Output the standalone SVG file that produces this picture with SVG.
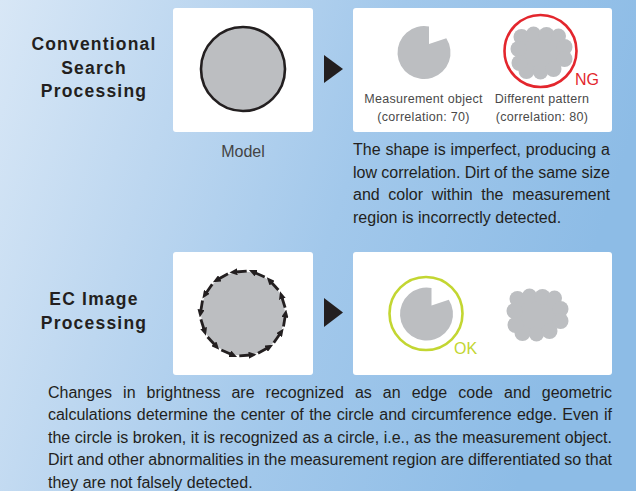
<svg xmlns="http://www.w3.org/2000/svg" xmlns:xlink="http://www.w3.org/1999/xlink" width="636" height="491" viewBox="0 0 636 491">
<defs>
<linearGradient id="bg" x1="0" y1="0" x2="1" y2="0.25">
<stop offset="0" stop-color="#d8e7f6"/>
<stop offset="0.3" stop-color="#bdd7f0"/>
<stop offset="0.6" stop-color="#a2c8eb"/>
<stop offset="1" stop-color="#8dbce6"/>
</linearGradient>
<marker id="ah" viewBox="0 0 8 7" refX="2" refY="3.5" markerWidth="8" markerHeight="7" markerUnits="userSpaceOnUse" orient="auto">
<path d="M0,0 L8,3.5 L0,7 z" fill="#231f20"/>
</marker>
<g id="cloud" fill="#bcbec1">
<ellipse cx="0" cy="0" rx="23" ry="19"/>
<circle cx="-20" cy="-16" r="8"/><circle cx="-8" cy="-19" r="7.5"/><circle cx="5" cy="-18" r="8"/><circle cx="17" cy="-17" r="7.5"/>
<circle cx="23" cy="-6" r="8"/><circle cx="23" cy="6" r="8"/>
<circle cx="-15" cy="18" r="8"/><circle cx="-1" cy="19" r="7.5"/><circle cx="12" cy="16" r="8"/>
<circle cx="-23" cy="-4" r="8"/><circle cx="-22" cy="10" r="8"/>
</g>
<path id="pie" d="M5,-8.5 L5,-26 A26.5,26.5 0 1 0 22.3,-14.3 Z" fill="#bcbec1"/>
</defs>
<style>
.box{fill:#ffffff}
.hd{font-family:"Liberation Sans",Arial,sans-serif;font-weight:bold;font-size:17.5px;letter-spacing:1.2px;fill:#231f20;text-anchor:middle}
.body{font-family:"Liberation Sans",Arial,sans-serif;font-size:16px;fill:#231f20}
.lbl{font-family:"Liberation Sans",Arial,sans-serif;font-size:12.5px;letter-spacing:0.3px;fill:#4a4a4a;text-anchor:middle}
.edge{fill:none;stroke:#231f20;stroke-width:2.8;marker-end:url(#ah)}
</style>
<rect width="636" height="491" fill="url(#bg)"/>

<g id="title-conventional">
<text class="hd" x="94" y="50">Conventional</text>
<text class="hd" x="94" y="74">Search</text>
<text class="hd" x="94" y="97">Processing</text>
</g>

<g id="model-box">
<rect class="box" x="173" y="8" width="140" height="124" rx="3"/>
<circle cx="243" cy="69" r="42" fill="#bcbec1" stroke="#231f20" stroke-width="2.6"/>
<text x="243" y="157" font-family="'Liberation Sans',Arial,sans-serif" font-size="16" fill="#444" text-anchor="middle">Model</text>
</g>

<g id="result-conventional">
<rect class="box" x="353" y="8" width="259" height="124" rx="3"/>
<use xlink:href="#pie" href="#pie" x="424" y="52.5"/>
<use xlink:href="#cloud" href="#cloud" x="541.5" y="53"/>
<circle cx="540.5" cy="51" r="36" fill="none" stroke="#e3262d" stroke-width="2.6"/>
<text x="575" y="85" font-family="'Liberation Sans',Arial,sans-serif" font-size="16" fill="#e3262d">NG</text>
<text class="lbl" x="423.5" y="103">Measurement object</text>
<text class="lbl" x="423.5" y="121">(correlation: 70)</text>
<text class="lbl" x="542" y="103">Different pattern</text>
<text class="lbl" x="542" y="121">(correlation: 80)</text>
</g>

<g id="desc-conventional" class="body">
<text x="353" y="155" word-spacing="0.5" textLength="257" lengthAdjust="spacing">The shape is imperfect, producing a</text>
<text x="353" y="177.5" word-spacing="-0.15" textLength="257" lengthAdjust="spacing">low correlation. Dirt of the same size</text>
<text x="353" y="200" word-spacing="4.2" textLength="257" lengthAdjust="spacing">and color within the measurement</text>
<text x="353" y="222.5">region is incorrectly detected.</text>
</g>

<g id="title-ec">
<text class="hd" x="94" y="305">EC Image</text>
<text class="hd" x="94" y="329">Processing</text>
</g>

<g id="ec-model-box">
<rect class="box" x="173" y="252" width="140" height="123" rx="3"/>
<circle cx="243" cy="313.5" r="42" fill="#bcbec1"/>
<g>
<path class="edge" d="M246.7,271.2 L235.4,272.0"/>
<path class="edge" d="M264.7,277.0 L254.4,272.5"/>
<path class="edge" d="M278.4,290.0 L270.8,281.7"/>
<path class="edge" d="M285.1,307.7 L281.8,297.0"/>
<path class="edge" d="M283.5,326.5 L285.3,315.4"/>
<path class="edge" d="M273.8,342.8 L280.2,333.5"/>
<path class="edge" d="M258.0,353.3 L267.9,347.7"/>
<path class="edge" d="M239.3,355.8 L250.6,355.0"/>
<path class="edge" d="M221.3,350.0 L231.6,354.5"/>
<path class="edge" d="M207.6,337.0 L215.2,345.3"/>
<path class="edge" d="M200.9,319.3 L204.2,330.0"/>
<path class="edge" d="M202.5,300.5 L200.7,311.6"/>
<path class="edge" d="M212.2,284.2 L205.8,293.5"/>
<path class="edge" d="M228.0,273.7 L218.1,279.3"/>
</g>
</g>

<g id="result-ec">
<rect class="box" x="353" y="252" width="259" height="123" rx="3"/>
<use xlink:href="#pie" href="#pie" x="426.5" y="314"/>
<circle cx="426" cy="313.5" r="36.5" fill="none" stroke="#c3d632" stroke-width="2.6"/>
<text x="454" y="354" font-family="'Liberation Sans',Arial,sans-serif" font-size="16" fill="#c3d632">OK</text>
<use xlink:href="#cloud" href="#cloud" x="537.5" y="315"/>
</g>

<g id="desc-ec" class="body">
<text x="48" y="397.5" word-spacing="6.6" textLength="564" lengthAdjust="spacing">Changes in brightness are recognized as an edge code and geometric</text>
<text x="48" y="420" word-spacing="0.9" textLength="564" lengthAdjust="spacing">calculations determine the center of the circle and circumference edge. Even if</text>
<text x="48" y="442.5" word-spacing="0.1" textLength="564" lengthAdjust="spacing">the circle is broken, it is recognized as a circle, i.e., as the measurement object.</text>
<text x="48" y="465" word-spacing="-0.4" textLength="564" lengthAdjust="spacing">Dirt and other abnormalities in the measurement region are differentiated so that</text>
<text x="48" y="487.5">they are not falsely detected.</text>
</g>

<g id="connectors" fill="#231f20">
<path d="M324,55 L343,69 L324,83 Z"/>
<path d="M324,298 L343,312.5 L324,327 Z"/>
</g>
</svg>
